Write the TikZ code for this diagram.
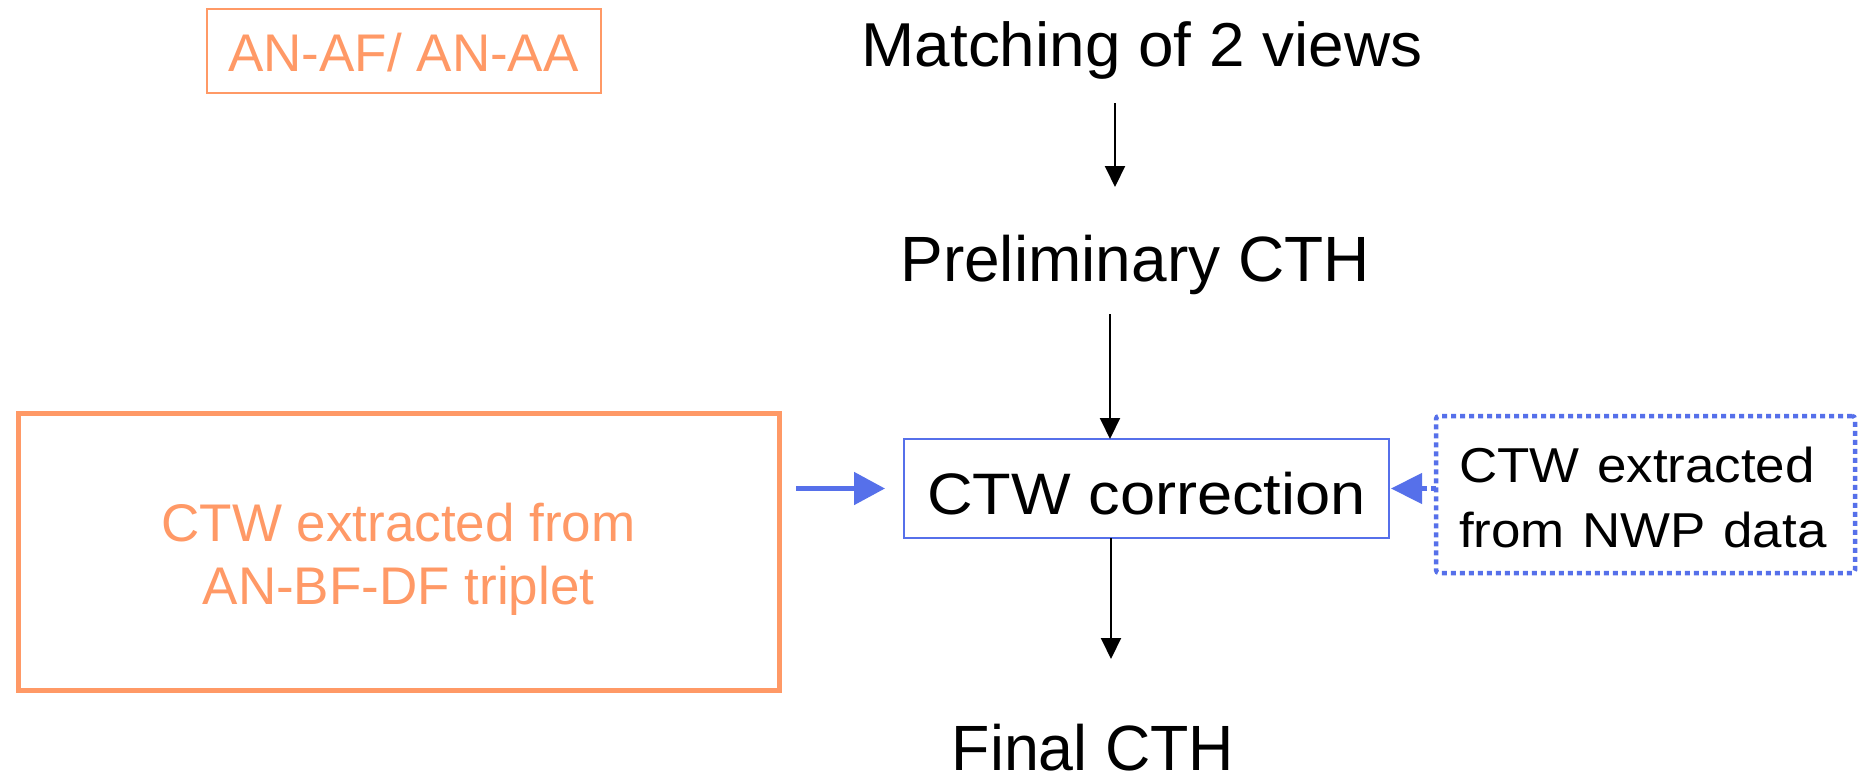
\documentclass[tikz,border=0pt]{standalone}
\usepackage{fontspec}
\setmainfont{Liberation Sans}
\usepackage{graphicx}
\usetikzlibrary{arrows.meta}
\definecolor{orng}{RGB}{255,153,102}
\definecolor{blu}{RGB}{86,112,234}
\tikzset{
  lbl/.style={inner sep=0pt, anchor=base},
  blk/.style={draw=black, line width=2pt, -{Triangle[length=21pt, width=20pt]}},
  bluearr/.style={draw=blu, line width=5pt, -{Triangle[length=31pt, width=32pt]}},
  bluedot/.style={draw=blu, line width=4.5pt, dash pattern=on 5pt off 4pt, -{Triangle[length=31pt, width=30pt]}},
}
\begin{document}
\begin{tikzpicture}[x=1pt, y=-1pt]
\fill[white] (0,0) rectangle (1861,774);
\useasboundingbox (0,0) rectangle (1861,774);

% top-left label box
\node[draw=orng, line width=2pt, outer sep=0pt, inner sep=0pt,
      minimum width=394pt, minimum height=84pt, text height=41pt, text depth=0pt,
      text=orng, font=\fontsize{53}{63}\selectfont]
  (anaf) at (403.5,50.5) {AN-AF/ AN-AA};

% main column texts
\node[lbl, font=\fontsize{62}{62}\selectfont] (match) at (1142,66) {\scalebox{1.03}[1]{Matching of 2 views}};
\node[lbl, font=\fontsize{64}{64}\selectfont] (prelim) at (1135,281) {Preliminary CTH};
\node[draw=blu, line width=2pt, outer sep=0pt, inner sep=0pt,
      minimum width=485pt, minimum height=99pt, text height=51pt, text depth=0pt,
      font=\fontsize{58.5}{60}\selectfont]
  (ctw) at (1146.5,488.5) {\scalebox{1.08}[1]{CTW correction}};
\node[lbl, font=\fontsize{64}{64}\selectfont] (final) at (1093,770) {\scalebox{0.98}[1]{Final CTH}};

% left orange box
\node[draw=orng, line width=5pt, outer sep=0pt, inner sep=0pt,
      minimum width=761pt, minimum height=277pt, align=center,
      text=orng, font=\fontsize{53}{63}\selectfont]
  (triplet) at (398.5,552) {\rule{0pt}{52pt}CTW extracted from\\AN-BF-DF triplet};

% right dotted box
\node[draw=blu, line width=4.5pt, dash pattern=on 5pt off 4pt, rounded corners=3pt,
      outer sep=0pt, inner xsep=23pt, inner ysep=0pt,
      text width=373pt, minimum height=157pt, align=left,
      font=\fontsize{49}{65}\selectfont]
  (nwp) at (1645.5,494.5) {\rule{0pt}{41pt}\scalebox{1.08}[1]{CTW extracted}\\\scalebox{1.08}[1]{from NWP data}};

% black arrows
\coordinate (a1s) at (1115,103);
\coordinate (a1e) at (1115,187);
\draw[blk] (a1s) -- (a1e);
\coordinate (a2s) at (1110,314);
\draw[blk] (a2s) -- (a2s |- ctw.north);
\coordinate (a3e) at (1111,659);
\draw[blk] (ctw.south -| a3e) -- (a3e);

% blue arrows
\draw[bluearr, shorten <=17pt, shorten >=19pt] (triplet.east |- ctw.west) -- (ctw.west);
\draw[bluedot] (nwp.west |- ctw.east) -- ([xshift=2pt]ctw.east);
\end{tikzpicture}
\end{document}
